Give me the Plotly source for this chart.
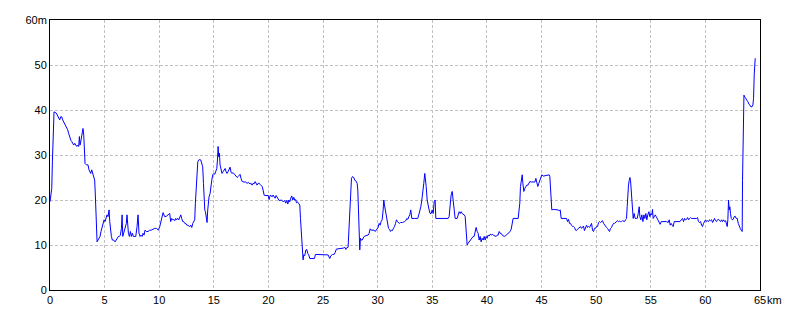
import plotly.graph_objects as go

# distance (km) and elevation (m)
dist_km = [
    0.00, 0.10, 0.16, 0.22, 0.31, 0.37, 0.58, 0.67, 0.80, 0.89, 0.98, 1.07, 1.16, 1.25, 1.35, 1.44, 1.53, 1.62, 1.71, 1.80,
    1.90, 1.99, 2.08, 2.17, 2.26, 2.35, 2.45, 2.54, 2.63, 2.69, 2.75, 2.84, 2.93, 3.02, 3.09, 3.15, 3.21, 3.33, 3.48, 3.57,
    3.66, 3.73, 3.82, 3.91, 4.00, 4.09, 4.15, 4.25, 4.31, 4.40, 4.49, 4.58, 4.67, 4.77, 4.86, 4.95, 5.04, 5.13, 5.22, 5.31,
    5.41, 5.47, 5.53, 5.62, 5.71, 5.83, 5.96, 6.08, 6.17, 6.26, 6.35, 6.44, 6.54, 6.60, 6.66, 6.75, 6.84, 6.93, 6.99, 7.05,
    7.12, 7.18, 7.27, 7.36, 7.45, 7.54, 7.63, 7.73, 7.85, 7.97, 8.06, 8.15, 8.25, 8.34, 8.43, 8.52, 8.61, 8.70, 8.82, 8.98,
    9.13, 9.28, 9.43, 9.59, 9.74, 9.92, 10.05, 10.20, 10.35, 10.50, 10.66, 10.81, 10.96,
    11.05, 11.14, 11.24, 11.33, 11.42, 11.51, 11.60, 11.69, 11.79, 11.88, 11.97, 12.06, 12.15, 12.24, 12.34, 12.43, 12.52,
    12.61, 12.70, 12.79, 12.89, 12.98, 13.07, 13.16, 13.25, 13.31, 13.37, 13.43, 13.53, 13.62, 13.71, 13.80, 13.89, 13.98,
    14.05, 14.11, 14.17, 14.23, 14.32, 14.38, 14.44, 14.50, 14.56, 14.66, 14.72, 14.81, 14.90, 14.99, 15.08, 15.17, 15.27,
    15.33, 15.39, 15.45, 15.51, 15.57, 15.66, 15.75, 15.85, 15.94, 16.03, 16.12, 16.21, 16.30, 16.40, 16.49, 16.58, 16.67,
    16.76, 16.85, 16.94, 17.04, 17.13, 17.22, 17.31, 17.40, 17.49, 17.59, 17.68, 17.77, 17.86, 17.95, 18.04, 18.14, 18.23,
    18.32, 18.41, 18.50, 18.59, 18.69, 18.78, 18.87, 18.96, 19.05, 19.14, 19.23, 19.33, 19.42, 19.51, 19.60, 19.69, 19.78,
    19.88, 19.97, 20.06, 20.15, 20.24, 20.33, 20.42, 20.52, 20.61, 20.70, 20.79, 20.88, 20.97, 21.07, 21.16, 21.25, 21.34,
    21.49, 21.58, 21.68, 21.77, 21.86, 21.95, 22.04, 22.13, 22.23, 22.32, 22.41, 22.50, 22.56, 22.65, 22.74, 22.87, 22.93,
    22.99, 23.05, 23.11, 23.17, 23.23, 23.32, 23.42, 23.51, 23.60, 23.69, 23.78, 24.09, 24.21, 24.30, 24.85, 25.46, 25.61,
    25.71, 25.86, 26.01, 26.10, 26.22, 26.84, 26.99, 27.08, 27.17, 27.29, 27.38, 27.48, 27.60, 27.69, 27.81, 27.90, 27.99,
    28.12, 28.18, 28.24, 28.30, 28.36, 28.42, 28.48, 28.58, 28.67, 28.76, 28.94, 29.03, 29.12, 29.22, 29.31, 29.40, 29.58,
    29.67, 29.77, 29.86, 29.95, 30.04, 30.13, 30.22, 30.31, 30.41, 30.50, 30.56, 30.62, 30.71, 30.80, 30.89, 30.99, 31.08,
    31.17, 31.26, 31.35, 31.44, 31.54, 31.63, 31.72, 31.81, 31.90, 31.99, 32.09, 32.27, 32.45,
    32.57, 32.67, 32.76, 32.85, 32.94, 33.03, 33.12, 33.40, 33.67, 33.76, 33.86, 33.95, 34.04, 34.13, 34.22, 34.31, 34.37,
    34.44, 34.53, 34.62, 34.71, 34.80, 34.89, 34.99, 35.08, 35.17, 35.26, 35.32, 35.84, 36.45, 36.54, 36.63, 36.72, 36.82,
    36.91, 37.00, 37.09, 37.27, 37.37, 37.46, 37.55, 37.64, 37.73, 37.82, 37.92, 38.01, 38.07, 38.13, 38.19, 38.28, 38.37,
    38.46, 38.56, 38.65, 38.74, 38.83, 38.92, 39.01, 39.11, 39.20, 39.29, 39.38, 39.47, 39.56, 39.66, 39.75, 39.84, 39.93,
    40.02, 40.11, 40.20, 40.30, 40.39, 40.48, 40.57, 40.66, 40.75, 40.85, 40.94, 41.03, 41.12, 41.21, 41.30, 41.40, 41.49,
    41.58, 41.67, 41.76, 41.85, 41.94, 42.04, 42.13, 42.22, 42.31, 42.40, 42.86, 42.95, 43.01, 43.07, 43.17, 43.23, 43.29,
    43.38, 43.47, 43.56, 43.65, 43.75, 43.84, 43.93,
    44.08, 44.23, 44.39, 44.48, 44.57, 44.66, 44.75, 44.84, 44.94, 45.03, 45.15, 45.30, 45.43, 45.61, 45.70, 45.76, 45.82,
    45.88, 45.94, 46.07, 46.37, 46.52, 46.61, 46.71, 46.80, 47.13, 47.29, 47.38, 47.47, 47.56, 47.65, 47.74, 47.84, 47.93,
    48.02, 48.11, 48.20, 48.29, 48.39, 48.48, 48.57, 48.66, 48.75, 48.84, 48.93, 49.03, 49.12, 49.21, 49.30, 49.39, 49.48,
    49.58, 49.67, 49.76, 49.85, 49.94, 50.03, 50.13, 50.22, 50.31, 50.40, 50.49, 50.58, 50.68, 50.77, 50.86, 50.95, 51.04,
    51.13, 51.22, 51.32, 51.41, 51.50, 51.59, 51.68, 51.77, 51.87, 51.96, 52.05, 52.14, 52.23, 52.32, 52.41, 52.51, 52.60,
    52.69, 52.78, 52.84, 52.90, 52.96, 53.03, 53.09, 53.15, 53.21, 53.27, 53.33, 53.39, 53.48, 53.57, 53.67, 53.76, 53.85,
    53.94,
    54.00, 54.09, 54.18, 54.28, 54.37, 54.46, 54.55, 54.64, 54.73, 54.83, 54.92, 55.01, 55.10, 55.16, 55.22, 55.31, 55.41,
    55.50, 55.59, 55.68, 55.77, 55.86, 55.96, 56.14, 56.29, 56.44, 56.60, 56.69, 56.78, 56.87, 56.96, 57.05, 57.15, 57.36,
    57.67, 57.82, 57.91, 58.00, 58.09, 58.18, 58.28, 58.37, 58.46, 58.55, 58.64, 58.73, 59.19, 59.28, 59.37, 59.47, 59.56,
    59.65, 59.74, 59.83, 59.92, 60.02, 60.11, 60.20, 60.29, 60.38, 60.47, 60.57, 60.66, 60.75, 60.84, 60.93, 61.02, 61.11,
    61.21, 61.30, 61.39, 61.48, 61.57, 61.66, 61.76, 61.85, 61.94, 62.00, 62.06, 62.12, 62.18, 62.24, 62.30, 62.37, 62.46,
    62.55, 62.64, 62.73, 62.82, 62.92, 63.01, 63.10, 63.19, 63.28, 63.37, 63.40, 63.43, 63.46, 63.53, 63.62, 63.71, 63.80,
    63.89, 63.98, 64.08, 64.17, 64.26, 64.35, 64.41, 64.47, 64.53, 64.56,
]

elev_m = [
    19.6, 22.6, 22.6, 28.5, 35.2, 39.6, 39.3, 38.9, 38.1, 37.8, 38.5, 38.5, 37.8, 37.4, 37.0, 36.7, 36.3, 35.6, 34.8, 33.7,
    33.3, 33.0, 32.6, 32.2, 32.6, 32.2, 31.9, 32.2, 31.9, 34.1, 32.2, 33.3, 35.2, 35.9, 34.4, 31.1, 28.1, 27.8, 27.8, 26.7,
    26.3, 25.9, 26.7, 25.9, 25.2, 24.4, 21.1, 14.1, 10.7, 11.1, 11.5, 11.9, 13.0, 14.1, 14.8, 15.6, 15.2, 15.9, 16.7, 16.3,
    17.8, 15.2, 13.3, 11.9, 11.1, 11.1, 10.7, 11.1, 11.5, 11.9, 11.9, 12.2, 13.7, 16.7, 11.9, 12.6, 13.3, 14.1, 14.8, 16.7,
    13.3, 12.6, 11.9, 13.0, 11.9, 12.6, 11.9, 11.9, 11.9, 14.1, 16.7, 12.6, 11.9, 12.2, 11.9, 12.6, 12.2, 13.3, 13.0, 13.0,
    13.3, 13.3, 13.5, 13.7, 13.7, 13.3, 14.1, 15.9, 17.2, 16.3, 16.4, 16.7, 17.0,
    15.2, 15.9, 15.6, 15.7, 15.4, 15.9, 15.6, 15.9, 15.6, 16.3, 16.7, 15.9, 15.2, 15.2, 14.8, 14.8, 14.4,
    14.4, 14.2, 14.1, 14.4, 13.9, 14.8, 15.2, 15.6, 19.3, 22.2, 26.7, 28.5, 28.9, 29.0, 28.9, 28.3, 27.4,
    23.7, 19.3, 17.8, 17.4, 15.6, 15.0, 17.8, 19.3, 20.7, 21.5, 23.0, 24.4, 25.6, 25.9, 25.7, 26.3, 27.0,
    28.9, 31.9, 29.6, 30.4, 27.8, 26.7, 25.9, 26.3, 26.7, 27.0, 26.3, 25.9, 26.3, 26.7, 27.3, 26.1, 25.9,
    26.1, 25.8, 25.6, 25.2, 25.0, 25.2, 25.6, 25.7, 24.8, 24.1, 24.1, 23.9, 24.1, 23.9, 23.7, 23.9, 23.7,
    23.6, 23.7, 23.3, 23.7, 23.6, 24.1, 23.7, 23.3, 23.7, 23.7, 23.5, 23.3, 23.0, 22.2, 21.1, 21.0, 21.0,
    21.1, 21.0, 20.1, 21.0, 21.0, 20.7, 21.1, 20.6, 20.4, 21.0, 20.6, 20.0, 19.9, 19.9, 20.0, 19.9, 19.6,
    19.9, 19.3, 19.9, 19.1, 20.0, 19.6, 20.4, 20.9, 20.0, 20.6, 19.9, 20.1, 19.4, 19.6, 19.3, 18.9, 15.9,
    13.3, 11.5, 9.3, 6.7, 7.8, 7.6, 8.9, 9.0, 8.1, 7.8, 7.0, 7.0, 7.0, 7.9, 7.9, 7.8, 7.0,
    7.6, 7.9, 7.9, 8.3, 9.1, 9.3, 9.5, 9.0, 9.4, 9.5, 13.3, 19.6, 24.8, 25.2, 25.0, 24.4, 24.3,
    23.7, 22.2, 17.8, 11.9, 8.9, 11.5, 11.1, 11.1, 11.5, 11.9, 12.1, 12.2, 12.2, 12.6, 13.6, 13.3, 13.2,
    13.3, 13.0, 13.3, 13.6, 13.9, 14.8, 14.4, 15.2, 15.6, 17.8, 20.0, 18.9, 17.8, 16.7, 14.8, 13.7, 13.5,
    13.0, 13.3, 13.2, 13.7, 14.1, 14.8, 15.6, 15.2, 15.0, 14.8, 15.0, 15.0, 15.2,
    15.4, 15.9, 15.7, 16.3, 16.7, 17.8, 15.9, 15.9, 15.9, 16.7, 17.4, 18.5, 20.0, 21.5, 23.7, 25.9, 24.8,
    23.0, 20.0, 18.5, 17.8, 17.0, 17.0, 17.8, 17.0, 19.6, 20.0, 15.9, 15.9, 15.9, 16.3, 19.3, 21.1, 21.9,
    19.3, 17.0, 15.9, 15.9, 16.7, 17.4, 17.0, 17.4, 17.0, 16.9, 16.7, 16.3, 13.3, 11.1, 10.0, 10.4, 10.7,
    11.0, 11.3, 11.5, 11.9, 11.9, 13.0, 13.9, 13.0, 12.6, 11.1, 11.9, 10.7, 11.5, 11.1, 11.9, 11.1, 11.9,
    11.5, 12.2, 12.0, 12.4, 12.2, 12.4, 12.2, 12.0, 12.0, 11.9, 12.2, 12.2, 13.0, 12.6, 12.6, 12.2, 12.0,
    11.9, 12.0, 12.2, 12.4, 12.6, 12.6, 13.0, 13.5, 14.4, 15.9, 15.9, 17.8, 19.3, 23.0, 24.4, 25.6, 23.7,
    21.9, 22.6, 23.1, 23.3, 23.3, 23.7, 24.1,
    24.0, 24.0, 24.0, 24.8, 23.7, 23.0, 23.7, 24.4, 25.2, 25.6, 25.3, 25.4, 25.4, 25.5, 25.6, 25.2, 22.2,
    19.6, 17.8, 17.9, 17.9, 17.8, 17.6, 17.8, 15.9, 15.9, 15.9, 15.2, 15.7, 14.8, 14.8, 14.4, 14.1, 14.1,
    13.9, 13.3, 13.2, 13.5, 13.7, 13.9, 14.1, 13.7, 13.9, 14.2, 13.2, 14.1, 14.4, 13.9, 14.1, 13.9, 14.4,
    14.8, 13.2, 13.0, 13.7, 13.7, 14.1, 14.1, 15.0, 15.2, 15.0, 15.2, 15.4, 14.8, 14.4, 14.1, 13.9, 13.7,
    13.3, 13.0, 13.7, 13.9, 14.4, 14.8, 14.8, 15.0, 15.3, 15.4, 15.2, 15.3, 15.2, 15.2, 15.4, 15.2, 15.2,
    15.6, 15.9, 18.5, 22.2, 23.3, 24.4, 25.0, 24.3, 21.9, 18.5, 16.3, 15.9, 17.0, 15.9, 15.9, 15.9, 17.0,
    18.5,
    16.3, 15.6, 16.7, 15.2, 16.7, 15.9, 17.0, 15.6, 16.7, 17.4, 16.3, 17.0, 16.7, 17.9, 15.9, 16.3, 16.7,
    16.3, 15.9, 15.4, 15.2, 14.6, 15.2, 15.2, 15.2, 15.2, 15.0, 15.6, 14.4, 14.8, 14.4, 14.1, 15.2, 15.2,
    15.2, 15.7, 15.9, 15.2, 15.9, 15.6, 15.7, 16.1, 15.6, 15.9, 16.1, 15.9, 15.9, 16.1, 15.2, 15.0, 15.2,
    14.4, 14.1, 14.8, 15.2, 15.6, 15.2, 15.4, 15.2, 15.6, 15.4, 15.6, 15.0, 15.4, 15.9, 15.4, 15.2, 15.6,
    15.7, 15.4, 15.2, 15.6, 15.2, 15.6, 15.2, 15.4, 14.8, 14.1, 15.7, 20.0, 17.8, 18.5, 17.0, 15.9, 15.6,
    15.7, 16.3, 16.4, 15.9, 15.9, 14.8, 14.1, 13.7, 13.3, 13.0, 24.4, 31.9, 39.6, 43.3, 42.8, 42.6, 42.1,
    41.9, 41.3, 41.1, 40.7, 40.7, 41.1, 42.6, 47.8, 49.3, 51.5,
]

x_ticks = [0, 5, 10, 15, 20, 25, 30, 35, 40, 45, 50, 55, 60, 65]
x_labels = ["0", "5", "10", "15", "20", "25", "30", "35", "40", "45", "50", "55", "60", "65"]
y_ticks = [0, 10, 20, 30, 40, 50, 60]
y_labels = ["0", "10", "20", "30", "40", "50", "60m"]

FONT = dict(family="Liberation Sans, Arial, sans-serif", size=11, color="#000000")

fig = go.Figure()
fig.add_trace(go.Scatter(
    x=dist_km, y=elev_m, mode="lines",
    line=dict(color="#0000ff", width=1),
    hoverinfo="skip", showlegend=False,
))

axis_common = dict(
    showgrid=True, gridcolor="#c0c0c0", griddash="3px,2px", gridwidth=1,
    showline=True, linecolor="#000000", linewidth=1, mirror=True,
    zeroline=False, ticks="", tickfont=FONT, fixedrange=True,
)
fig.update_xaxes(range=[0, 65], tickmode="array", tickvals=x_ticks, ticktext=x_labels, **axis_common)
fig.update_yaxes(range=[0, 60], tickmode="array", tickvals=y_ticks, ticktext=y_labels, **axis_common)

fig.add_annotation(x=65, y=0, xref="x", yref="y", text="km", showarrow=False,
                   xanchor="left", yanchor="top", xshift=5, yshift=-2, font=FONT)

fig.update_layout(
    width=800, height=320,
    margin=dict(l=50, r=40, t=20, b=30),
    paper_bgcolor="#ffffff", plot_bgcolor="#ffffff",
    font=FONT,
)

fig.write_html("out.html", config={"displayModeBar": False})
